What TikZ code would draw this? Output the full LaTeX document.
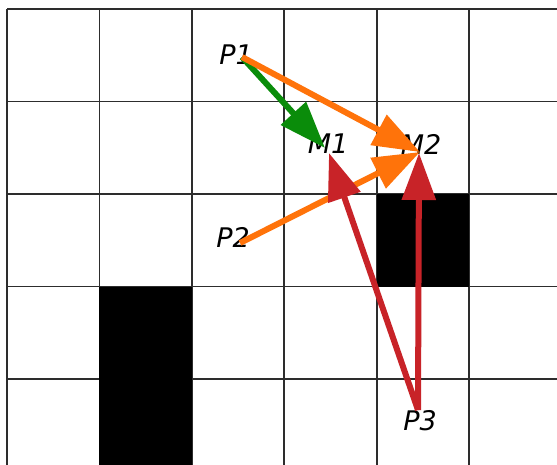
\documentclass[tikz,border=0pt]{standalone}
\usepackage{fontspec}
\setmainfont{DejaVu Sans}
\usetikzlibrary{arrows.meta}
\definecolor{gridc}{RGB}{45,45,45}
\definecolor{greenc}{RGB}{10,140,10}
\definecolor{orangec}{RGB}{255,115,10}
\definecolor{redc}{RGB}{200,35,40}
\tikzset{
  gridline/.style={draw=gridc, line width=1.8pt},
  lbl/.style={font=\fontsize{27}{30}\selectfont\itshape, inner sep=0pt, text=black},
  bigarrow/.style={line width=6pt, -{Triangle[length=47pt,width=33pt]}},
}
\begin{document}
\begin{tikzpicture}[x=1pt,y=-1pt]
\useasboundingbox (0,0) rectangle (557,465);
\fill[white] (0,0) rectangle (557,465);
% grid
\foreach \x in {7,99.4,191.8,284.2,376.6,469} {
  \draw[gridline] (\x,9) -- (\x,465);
}
\foreach \y in {9,101.5,194,286.5,379} {
  \draw[gridline] (7,\y) -- (557,\y);
}
% black cells
\fill[black] (99.4,286.5) rectangle (191.8,465);
\fill[black] (376.6,194) rectangle (469,286.5);
% labels
\node[lbl] (lp1) at (236,55) {P1};
\node[lbl] (lm1) at (328,144) {M1};
\node[lbl] (lm2) at (421,144) {M2};
\node[lbl] (lp2) at (233,237) {P2};
\node[lbl] (lp3) at (420,421) {P3};
% endpoints
\coordinate (p1) at (242,57);
\coordinate (p2) at (240,243);
\coordinate (p3) at (418,410);
\coordinate (m1g) at (325,148);
\coordinate (m2) at (420,152);
\coordinate (m1r) at (329,153);
\coordinate (m2r) at (419,153);
% arrows
\draw[bigarrow, draw=greenc, fill=greenc] (p1) -- (m1g);
\draw[bigarrow, draw=orangec, fill=orangec] (p1) -- (m2);
\draw[bigarrow, draw=orangec, fill=orangec] (p2) -- (m2);
\draw[bigarrow, draw=redc, fill=redc] (p3) -- (m1r);
\draw[bigarrow, draw=redc, fill=redc] (p3) -- (m2r);
\end{tikzpicture}
\end{document}
